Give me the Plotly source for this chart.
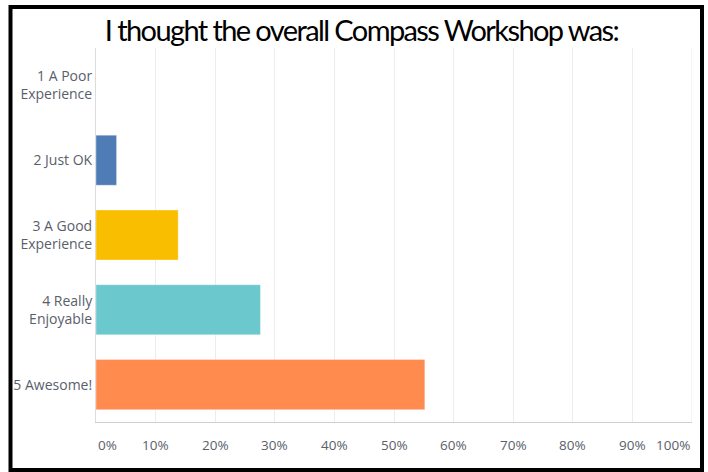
import plotly.graph_objects as go

# Survey responses: "I thought the overall Compass Workshop was:"
categories = ["1 A Poor<br>Experience", "2 Just OK", "3 A Good<br>Experience",
              "4 Really<br>Enjoyable", "5 Awesome!"]
percent = [0.0, 3.45, 13.79, 27.59, 55.17]
bar_colors = ["#507cb6", "#507cb6", "#f9be00", "#6bc8cd", "#ff8b4f"]
tick_vals = [0, 10, 20, 30, 40, 50, 60, 70, 80, 90, 100]
tick_text = [f"{v}%" for v in tick_vals]

W, H = 708, 472
L, R, T, B = 96, 16, 48, 50
pw, ph = W - L - R, H - T - B
TEXT = "#5a5e6b"
FONT = "'Open Sans', Roboto, sans-serif"


def px_to_paper_x(px):
    return (px - L) / pw


def px_to_paper_y(py):
    return (H - B - py) / ph


fig = go.Figure(
    go.Bar(
        y=categories,
        x=percent,
        orientation="h",
        marker=dict(color=bar_colors, line=dict(color="rgba(255,255,255,0.35)", width=1)),
        width=0.67,
        hoverinfo="skip",
    )
)

# percentage labels under the axis: the end labels sit inside the plot width
tick_annotations = []
for v, t in zip(tick_vals, tick_text):
    anchor = "left" if v == tick_vals[0] else ("right" if v == tick_vals[-1] else "center")
    tick_annotations.append(
        dict(
            x=v,
            xref="x",
            y=px_to_paper_y(445),
            yref="paper",
            text=t,
            showarrow=False,
            xanchor=anchor,
            yanchor="middle",
            font=dict(family=FONT, size=13.5, color=TEXT),
        )
    )

fig.update_layout(
    width=W,
    height=H,
    margin=dict(l=L, r=R, t=T, b=B),
    paper_bgcolor="white",
    plot_bgcolor="white",
    showlegend=False,
    font=dict(family=FONT, color=TEXT, size=14),
    title=dict(
        text="I thought the overall Compass Workshop was:",
        x=361.5 / W,
        xanchor="center",
        y=1 - 31 / H,
        yanchor="middle",
        font=dict(family="Lato, 'Open Sans', sans-serif", size=29, color="#000000"),
    ),
    xaxis=dict(
        range=[0, 100],
        tickvals=tick_vals,
        showticklabels=False,
        showgrid=True,
        gridcolor="#ececec",
        gridwidth=1,
        zeroline=False,
        showline=True,
        linecolor="#cfcfcf",
        linewidth=1,
        fixedrange=True,
    ),
    yaxis=dict(
        autorange="reversed",
        showgrid=False,
        zeroline=False,
        showline=True,
        linecolor="#dcdcdc",
        linewidth=1,
        ticks="",
        ticklabelstandoff=0,
        tickfont=dict(family=FONT, size=14, color=TEXT),
        fixedrange=True,
    ),
    annotations=tick_annotations,
    shapes=[
        dict(
            type="line",
            xref="x",
            yref="paper",
            x0=100,
            x1=100,
            y0=0,
            y1=1,
            line=dict(color="#ececec", width=1),
            layer="below",
        ),
        dict(
            type="rect",
            xref="paper",
            yref="paper",
            x0=px_to_paper_x(10.5),
            x1=px_to_paper_x(702),
            y0=px_to_paper_y(470),
            y1=px_to_paper_y(7),
            line=dict(color="#000000", width=4),
            fillcolor="rgba(0,0,0,0)",
            layer="above",
        ),
    ],
)

# tighten the title's letter spacing so the headline reads as a condensed face
title_js = (
    "document.querySelectorAll('.gtitle').forEach(function(el){"
    "el.style.letterSpacing='-1.6px';});"
)

fig.write_html("out.html", config={"displayModeBar": False}, post_script=title_js)
